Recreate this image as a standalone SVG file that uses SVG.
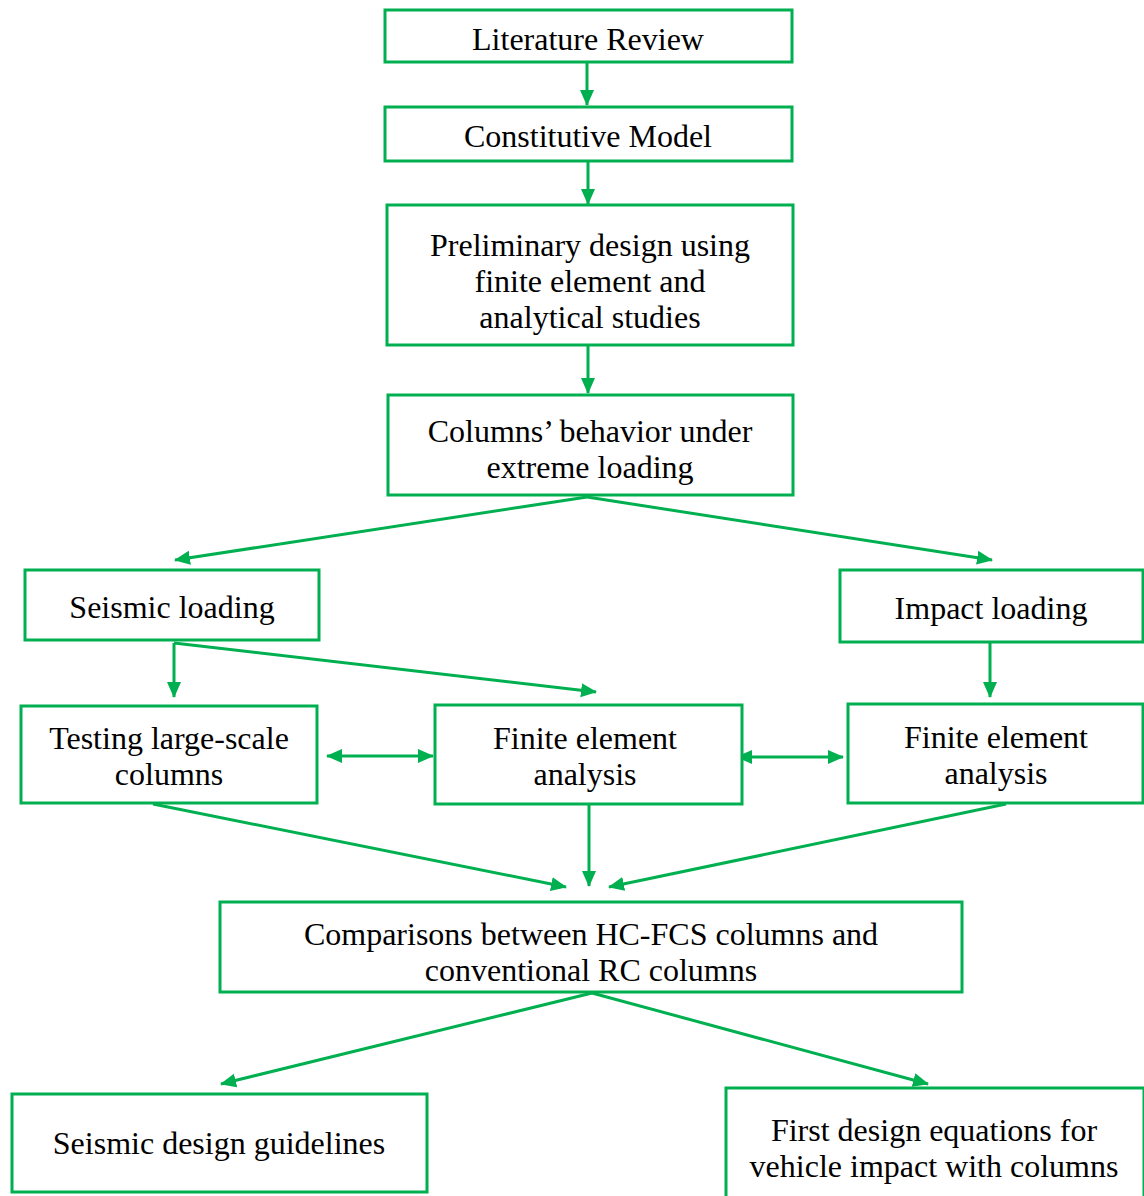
<svg xmlns="http://www.w3.org/2000/svg" width="1144" height="1196" viewBox="0 0 1144 1196">
<style>
.box{fill:#fff;stroke:#00B050;stroke-width:3}
.t{font-family:'Liberation Serif','Times New Roman',Times,'DejaVu Serif',serif;font-size:32px;fill:#000;text-anchor:middle}
.c{fill:none;stroke:#00B050;stroke-width:3}
</style>
<defs>
<marker id="ah" markerUnits="userSpaceOnUse" markerWidth="16" markerHeight="16" refX="15" refY="8" orient="auto-start-reverse" viewBox="0 0 16 16">
<path d="M0,1 L16,8 L0,15 Z" fill="#00B050"/>
</marker>
</defs>
<rect width="1144" height="1196" fill="#fff"/>
<g id="connectors">
<line class="c" x1="587" y1="62" x2="587" y2="105" marker-end="url(#ah)"/>
<line class="c" x1="588" y1="161" x2="588" y2="204" marker-end="url(#ah)"/>
<line class="c" x1="588" y1="345" x2="588" y2="393" marker-end="url(#ah)"/>
<line class="c" x1="587" y1="497" x2="175" y2="560" marker-end="url(#ah)"/>
<line class="c" x1="587" y1="497" x2="992" y2="560" marker-end="url(#ah)"/>
<line class="c" x1="174" y1="643" x2="174" y2="697" marker-end="url(#ah)"/>
<line class="c" x1="174" y1="643" x2="596" y2="692" marker-end="url(#ah)"/>
<line class="c" x1="990" y1="643" x2="990" y2="697" marker-end="url(#ah)"/>
<line class="c" x1="327" y1="756" x2="433" y2="756" marker-start="url(#ah)" marker-end="url(#ah)"/>
<line class="c" x1="737" y1="757" x2="843" y2="757" marker-start="url(#ah)" marker-end="url(#ah)"/>
<line class="c" x1="153" y1="804" x2="566" y2="887" marker-end="url(#ah)"/>
<line class="c" x1="589" y1="804" x2="589" y2="886" marker-end="url(#ah)"/>
<line class="c" x1="1006" y1="804" x2="609" y2="887" marker-end="url(#ah)"/>
<line class="c" x1="592" y1="993" x2="221" y2="1084" marker-end="url(#ah)"/>
<line class="c" x1="592" y1="993" x2="928" y2="1084" marker-end="url(#ah)"/>
</g>
<g id="literature-review"><rect class="box" x="385" y="10" width="407" height="52"/><text class="t" x="588" y="50">Literature Review</text></g>
<g id="constitutive-model"><rect class="box" x="385" y="107" width="407" height="54"/><text class="t" x="588" y="147">Constitutive Model</text></g>
<g id="preliminary-design"><rect class="box" x="387" y="205" width="406" height="140"/><text class="t" x="590" y="256">Preliminary design using</text><text class="t" x="590" y="292">finite element and</text><text class="t" x="590" y="328">analytical studies</text></g>
<g id="columns-behavior"><rect class="box" x="388" y="395" width="405" height="100"/><text class="t" x="590" y="442">Columns’ behavior under</text><text class="t" x="590" y="478">extreme loading</text></g>
<g id="seismic-loading"><rect class="box" x="25" y="570" width="294" height="70"/><text class="t" x="172" y="618">Seismic loading</text></g>
<g id="impact-loading"><rect class="box" x="840" y="570" width="303" height="72"/><text class="t" x="991" y="619">Impact loading</text></g>
<g id="testing"><rect class="box" x="21" y="706" width="296" height="97"/><text class="t" x="169" y="749">Testing large-scale</text><text class="t" x="169" y="785">columns</text></g>
<g id="fea-seismic"><rect class="box" x="435" y="705" width="307" height="99"/><text class="t" x="585" y="749">Finite element</text><text class="t" x="585" y="785">analysis</text></g>
<g id="fea-impact"><rect class="box" x="848" y="704" width="295" height="99"/><text class="t" x="996" y="748">Finite element</text><text class="t" x="996" y="784">analysis</text></g>
<g id="comparisons"><rect class="box" x="220" y="902" width="742" height="90"/><text class="t" x="591" y="945">Comparisons between HC-FCS columns and</text><text class="t" x="591" y="981">conventional RC columns</text></g>
<g id="seismic-guidelines"><rect class="box" x="12" y="1094" width="415" height="98"/><text class="t" x="219" y="1154">Seismic design guidelines</text></g>
<g id="impact-equations"><rect class="box" x="726" y="1088" width="418" height="110"/><text class="t" x="934" y="1141">First design equations for</text><text class="t" x="934" y="1177">vehicle impact with columns</text></g>
</svg>
